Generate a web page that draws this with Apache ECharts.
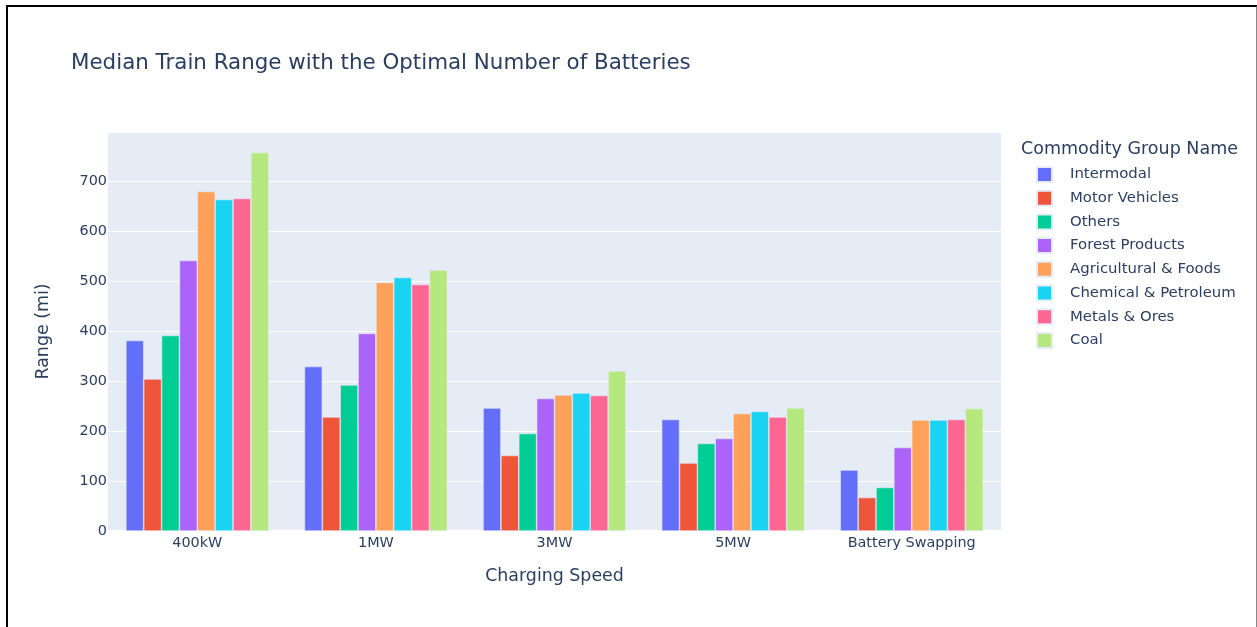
<!DOCTYPE html>
<html>
<head>
<meta charset="utf-8">
<title>Median Train Range</title>
<script src="https://cdn.jsdelivr.net/npm/echarts@6/dist/echarts.min.js"></script>
<style>
  html, body { margin: 0; padding: 0; background: #fff; }
  #chart { width: 1257px; height: 627px; }
  #frame {
    position: absolute; left: 6px; top: 5px; width: 1248px; height: 700px;
    border-left: 2px solid #000; border-top: 2px solid #000; border-right: 2px solid #888;
    pointer-events: none;
  }
</style>
</head>
<body>
<div id="chart"></div>
<div id="frame"></div>
<script>
    // charging speed categories
    const speeds = ['400kW', '1MW', '3MW', '5MW', 'Battery Swapping']

    // median range (mi) per commodity group, one value per charging speed
    const intermodal = [381, 329, 246, 223, 122]
    const motorVehicles = [304, 228, 151, 136, 67]
    const others = [391, 292, 195, 175, 87]
    const forestProducts = [541, 395, 265, 185, 167]
    const agriculturalFoods = [679, 497, 272, 235, 222]
    const chemicalPetroleum = [663, 507, 276, 239, 222]
    const metalsOres = [665, 493, 271, 228, 223]
    const coal = [757, 522, 320, 246, 245]

    const groups = [
        {name: 'Intermodal', data: intermodal, color: '#636efa'},
        {name: 'Motor Vehicles', data: motorVehicles, color: '#EF553B'},
        {name: 'Others', data: others, color: '#00cc96'},
        {name: 'Forest Products', data: forestProducts, color: '#ab63fa'},
        {name: 'Agricultural & Foods', data: agriculturalFoods, color: '#FFA15A'},
        {name: 'Chemical & Petroleum', data: chemicalPetroleum, color: '#19d3f3'},
        {name: 'Metals & Ores', data: metalsOres, color: '#FF6692'},
        {name: 'Coal', data: coal, color: '#B6E880'}
    ]

    const font = 'DejaVu Sans, Verdana, sans-serif'
    const ink = '#2a3f5f'

    const chart = echarts.init(document.getElementById('chart'))
    chart.setOption({
        animation: false,
        textStyle: {fontFamily: font, color: ink},
        title: [
            {
                text: 'Median Train Range with the Optimal Number of Batteries',
                left: 71,
                top: 53,
                padding: 0,
                textStyle: {fontFamily: font, fontSize: 21.4, fontWeight: 'normal', color: ink}
            },
            {
                text: 'Commodity Group Name',
                left: 1021,
                top: 140.5,
                padding: 0,
                textStyle: {fontFamily: font, fontSize: 17.5, fontWeight: 'normal', color: ink}
            }
        ],
        legend: {
            orient: 'vertical',
            left: 1036,
            top: 166,
            padding: 0,
            icon: 'rect',
            itemWidth: 15,
            itemHeight: 15,
            itemGap: 6.7,
            data: groups.map(g => g.name),
            textStyle: {fontFamily: font, fontSize: 14.9, color: ink, padding: [0, 0, 0, 13]}
        },
        grid: {
            left: 108,
            right: 256,
            top: 132,
            bottom: 96,
            show: true,
            backgroundColor: '#E5ECF6',
            borderWidth: 0
        },
        xAxis: {
            type: 'category',
            data: speeds,
            name: 'Charging Speed',
            nameLocation: 'middle',
            nameGap: 37,
            nameTextStyle: {fontFamily: font, fontSize: 17.4, color: ink},
            axisTick: {show: false},
            axisLine: {show: true, lineStyle: {color: '#fff', width: 2}},
            axisLabel: {fontFamily: font, fontSize: 14.4, color: ink, margin: 5},
            splitLine: {show: false}
        },
        yAxis: {
            type: 'value',
            min: 0,
            max: 798,
            interval: 100,
            name: 'Range (mi)',
            nameLocation: 'middle',
            nameGap: 56,
            nameTextStyle: {fontFamily: font, fontSize: 17.4, color: ink},
            axisLine: {show: false},
            axisTick: {show: false},
            axisLabel: {fontFamily: font, fontSize: 14.4, color: ink, margin: 1, showMaxLabel: false},
            splitLine: {lineStyle: {color: '#fff', width: 1.2}}
        },
        series: groups.map(g => ({
            name: g.name,
            type: 'bar',
            data: g.data,
            barGap: '0%',
            barCategoryGap: '20%',
            itemStyle: {color: g.color, borderColor: '#E5ECF6', borderWidth: 0.6}
        }))
    })
</script>
</body>
</html>
